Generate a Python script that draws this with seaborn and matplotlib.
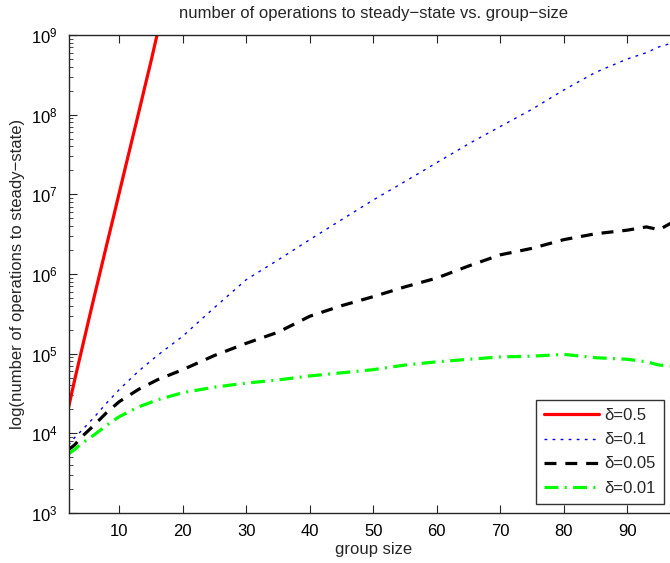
import numpy as np
import pandas as pd
import matplotlib
matplotlib.use("Agg")
import matplotlib.pyplot as plt
from matplotlib.ticker import NullFormatter, FixedLocator, LogFormatterSciNotation
import seaborn as sns

# group sizes and operation counts for each delta
x_red = [2, 3, 4, 5, 6, 7, 8, 9, 10, 11, 12, 13, 14, 15, 16]
ops_red = [2.1e4, 4.8e4, 1.05e5, 2.3e5, 5.0e5, 1.07e6, 2.3e6, 4.9e6, 1.05e7,
           2.25e7, 4.8e7, 1.02e8, 2.2e8, 4.7e8, 1.05e9]

x_grp = [2, 3, 4, 6, 8, 10, 13, 16, 20, 25, 30, 35, 40, 45, 50, 55, 60,
         65, 70, 75, 80, 85, 90, 93, 95, 97, 98]
ops_blue = [7.1e3, 8.9e3, 1.07e4, 1.58e4, 2.4e4, 3.55e4, 6.0e4, 9.5e4,
            1.66e5, 3.8e5, 8.5e5, 1.5e6, 2.7e6, 4.8e6, 8.5e6, 1.45e7,
            2.5e7, 4.3e7, 7.1e7, 1.17e8, 2.04e8, 3.4e8, 5.0e8, 6.0e8,
            7.1e8, 7.9e8, 8.3e8]
ops_black = [6.2e3, 7.2e3, 8.9e3, 1.26e4, 1.82e4, 2.5e4, 3.55e4, 4.7e4,
             6.3e4, 9.5e4, 1.35e5, 1.86e5, 2.95e5, 4.0e5, 5.2e5, 6.9e5,
             8.9e5, 1.26e6, 1.74e6, 2.1e6, 2.7e6, 3.2e6, 3.55e6, 3.9e6,
             3.6e6, 4.4e6, 4.3e6]
ops_green = [5.5e3, 6.3e3, 7.4e3, 9.5e3, 1.26e4, 1.62e4, 2.14e4, 2.63e4,
             3.24e4, 3.8e4, 4.27e4, 4.68e4, 5.25e4, 5.75e4, 6.3e4, 7.2e4,
             7.9e4, 8.5e4, 9.1e4, 9.3e4, 9.8e4, 8.9e4, 8.5e4, 7.9e4,
             7.2e4, 7.0e4, 6.9e4]

labels = ["\u03b4=0.5", "\u03b4=0.1", "\u03b4=0.05", "\u03b4=0.01"]
x_ticks = [10, 20, 30, 40, 50, 60, 70, 80, 90]
y_ticks = [1e3, 1e4, 1e5, 1e6, 1e7, 1e8, 1e9]

sns.set_theme(style="ticks")
plt.rcParams["font.family"] = ["Liberation Sans", "DejaVu Sans"]
plt.rcParams["lines.scale_dashes"] = False
plt.rcParams["axes.unicode_minus"] = True

fig = plt.figure(figsize=(6.70, 5.63), dpi=100)
ax = fig.add_axes([68.5 / 670, 50 / 563, 609.6 / 670, 478 / 563])

series = [
    (x_red, ops_red, "#ff0000", 2.3, None),
    (x_grp, ops_blue, "#0000ff", 1.0, (2.0, 3.8)),
    (x_grp, ops_black, "#000000", 2.3, (8.6, 6.4)),
    (x_grp, ops_green, "#00ff00", 2.3, (10.0, 4.6, 1.4, 4.6)),
]

for (xs, ys, col, lw, dash), lab in zip(series, labels):
    df = pd.DataFrame({"group size": xs, "ops": ys})
    sns.lineplot(data=df, x="group size", y="ops", color=col, linewidth=lw,
                 label=lab, ax=ax, errorbar=None)
    line = ax.lines[-1]
    if dash is not None:
        line.set_dashes(dash)
        line.set_dash_capstyle("butt")

ax.set_yscale("log")
ax.set_xlim(2, 98)
ax.set_ylim(1e3, 1e9)
ax.set_xticks(x_ticks)
ax.set_xticklabels([str(t) for t in x_ticks])
ax.yaxis.set_major_locator(FixedLocator(y_ticks))
ax.yaxis.set_major_formatter(LogFormatterSciNotation())
minor = [m * d for d in y_ticks[:-1] for m in range(2, 10)]
ax.yaxis.set_minor_locator(FixedLocator(minor))
ax.yaxis.set_minor_formatter(NullFormatter())

ax.tick_params(axis="both", which="both", direction="in", top=True, right=True,
               labelsize=12, colors="#262626", labelcolor="black")
ax.tick_params(axis="both", which="major", length=6, width=0.8, pad=8)
ax.tick_params(axis="y", which="minor", length=3, width=0.6)
for sp in ax.spines.values():
    sp.set_visible(True)
    sp.set_color("#262626")
    sp.set_linewidth(1.0)

ax.set_xlabel("group size", fontsize=12, labelpad=2)
ax.set_ylabel("log(number of operations to steady\u2212state)", fontsize=12,
              labelpad=4)
ax.set_title("number of operations to steady\u2212state vs. group\u2212size",
             fontsize=12, pad=12.5)

leg = ax.legend(loc="lower right", bbox_to_anchor=(664 / 670, 59 / 563),
                bbox_transform=fig.transFigure, fontsize=12, frameon=True,
                fancybox=False, handlelength=3.3, handletextpad=0.3,
                borderpad=0.5, labelspacing=0.55, borderaxespad=0)
leg.get_frame().set_edgecolor("black")
leg.get_frame().set_linewidth(1.0)

fig.savefig("out.png", dpi=100)
